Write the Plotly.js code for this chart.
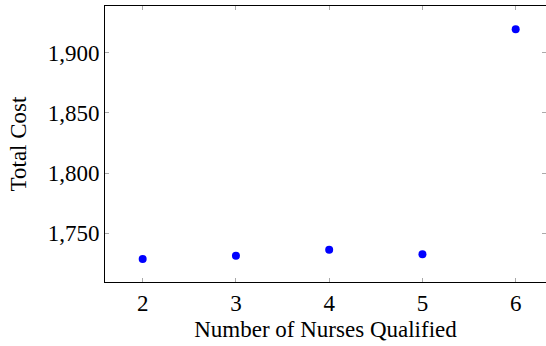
<!DOCTYPE html>
<html>
<head>
<meta charset="utf-8">
<script src="https://cdn.plot.ly/plotly-3.0.1.min.js"></script>
<style>
html,body{margin:0;padding:0;background:#fff;}
#fontwarm{position:absolute;left:0;top:0;font-family:'Liberation Serif';font-size:23px;color:#fff;opacity:0.01;pointer-events:none;z-index:-1;}
</style>
</head>
<body>
<div id="fontwarm">Number of Nurses Qualified Total Cost 1,750 23456</div>
<div id="chart" style="width:546px;height:346px;"></div>
<script>
const nurses = [2, 3, 4, 5, 6];
const totalCost = [1728.7, 1731.4, 1736.4, 1732.6, 1919.4];
const yTicks = [1750, 1800, 1850, 1900];
const xTicks = [2, 3, 4, 5, 6];

function draw() {
  Plotly.newPlot('chart', [{
    x: nurses,
    y: totalCost,
    type: 'scatter',
    mode: 'markers',
    marker: {color: '#0000ff', size: 8}
  }], {
    width: 546,
    height: 346,
    margin: {l: 105, r: 0, t: 6, b: 64, pad: 0},
    font: {family: 'Liberation Serif', size: 23, color: '#000'},
    showlegend: false,
    xaxis: {
      range: [1.596, 6.325],
      tickvals: xTicks,
      ticks: 'inside',
      ticklen: 4,
      tickcolor: '#aaa',
      tickwidth: 1,
      showline: true,
      linecolor: '#000',
      linewidth: 1,
      mirror: 'ticks',
      showgrid: false,
      zeroline: false,
      title: {text: 'Number of Nurses Qualified', font: {size: 23}, standoff: 6}
    },
    yaxis: {
      range: [1709.6, 1938.8],
      tickvals: yTicks,
      tickformat: ',d',
      ticks: 'inside',
      ticklen: 4,
      tickcolor: '#aaa',
      tickwidth: 1,
      showline: true,
      linecolor: '#000',
      linewidth: 1,
      mirror: 'ticks',
      showgrid: false,
      zeroline: false,
      title: {text: 'Total Cost', font: {size: 23}, standoff: 14}
    }
  }, {staticPlot: true});
}

if (document.fonts && document.fonts.load) {
  document.fonts.load('23px "Liberation Serif"').then(draw, draw);
} else {
  draw();
}
</script>
</body>
</html>
